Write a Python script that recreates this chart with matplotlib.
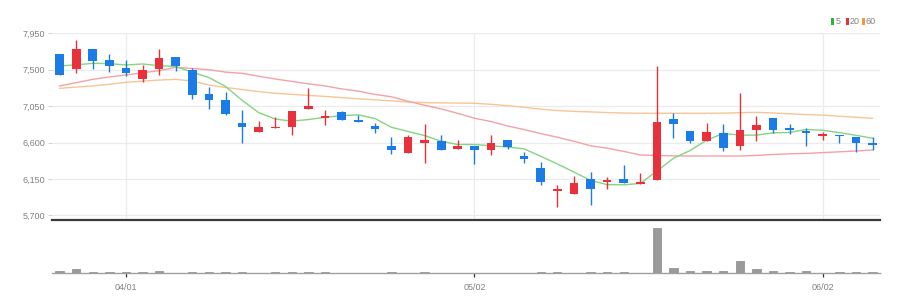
import matplotlib
matplotlib.use("Agg")
import matplotlib.pyplot as plt
import numpy as np
from matplotlib import font_manager
from matplotlib.patches import Rectangle

names = {f.name for f in font_manager.fontManager.ttflist}
FONT = "Liberation Sans" if "Liberation Sans" in names else "DejaVu Sans"
plt.rcParams["font.family"] = [FONT, "DejaVu Sans"]

# ---------------- data ----------------
opens = [7694, 7513, 7756, 7620, 7526, 7381, 7505, 7653, 7497, 7196,
         7126, 6846, 6730, 6780, 6788, 7015, 6907, 6973, 6879, 6809,
         6561, 6475, 6594, 6623, 6516, 6553, 6508, 6635, 6437, 6281,
         6005, 5967, 6145, 6108, 6151, 6087, 6137, 6891, 6738, 6615,
         6722, 6561, 6755, 6899, 6775, 6743, 6685, 6693, 6672, 6590]
highs = [7694, 7868, 7756, 7690, 7620, 7558, 7760, 7661, 7517, 7282,
         7225, 7002, 6870, 6920, 6994, 7270, 7002, 6990, 6940, 6846,
         6672, 6693, 6829, 6693, 6631, 6553, 6693, 6635, 6487, 6355,
         6077, 6186, 6240, 6178, 6322, 6219, 7550, 6961, 6738, 6837,
         6825, 7208, 6928, 6899, 6825, 6784, 6734, 6693, 6672, 6672]
lows = [7435, 7455, 7505, 7476, 7422, 7352, 7435, 7488, 7138, 7010,
        6940, 6598, 6730, 6780, 6697, 7015, 6817, 6879, 6854, 6714,
        6454, 6475, 6351, 6508, 6516, 6334, 6450, 6516, 6347, 6077,
        5807, 5967, 5828, 6025, 6095, 6087, 6137, 6652, 6590, 6615,
        6501, 6508, 6623, 6714, 6701, 6553, 6631, 6590, 6487, 6508]
closes = [7435, 7752, 7608, 7542, 7455, 7497, 7649, 7550, 7192, 7126,
          6949, 6792, 6788, 6796, 6994, 7052, 6932, 6879, 6854, 6767,
          6508, 6672, 6627, 6508, 6561, 6508, 6598, 6544, 6396, 6106,
          6030, 6098, 6030, 6133, 6095, 6112, 6858, 6825, 6615, 6730,
          6536, 6751, 6821, 6755, 6755, 6722, 6701, 6677, 6590, 6574]
ma5 = [7546, 7560, 7579, 7575, 7558, 7571, 7550, 7539, 7469, 7403,
       7293, 7122, 6969, 6890, 6864, 6884, 6912, 6931, 6942, 6897,
       6788, 6736, 6686, 6616, 6575, 6575, 6560, 6544, 6521, 6430,
       6335, 6235, 6132, 6079, 6077, 6094, 6246, 6405, 6501, 6628,
       6713, 6691, 6691, 6719, 6724, 6761, 6751, 6722, 6689, 6653]
ma20 = [7299, 7340, 7381, 7410, 7435, 7462, 7488, 7530, 7515, 7500,
        7470, 7455, 7420, 7385, 7355, 7325, 7300, 7262, 7235, 7195,
        7165, 7110, 7060, 7015, 6960, 6900, 6860, 6805, 6760, 6710,
        6665, 6615, 6560, 6530, 6490, 6446, 6440, 6435, 6433, 6433,
        6433, 6433, 6440, 6452, 6460, 6465, 6475, 6485, 6495, 6508]
ma60 = [7270, 7285, 7300, 7320, 7344, 7358, 7372, 7381, 7360, 7311,
        7280, 7255, 7229, 7208, 7195, 7182, 7170, 7155, 7140, 7128,
        7115, 7100, 7093, 7090, 7088, 7085, 7072, 7055, 7035, 7012,
        6995, 6985, 6978, 6970, 6965, 6961, 6961, 6961, 6961, 6961,
        6963, 6968, 6973, 6965, 6955, 6945, 6938, 6925, 6912, 6899]
volumes = [46000, 86000, 20000, 20000, 20000, 20000, 46000, 6000, 20000, 20000,
           20000, 20000, 6000, 20000, 20000, 20000, 20000, 6000, 6000, 6000,
           20000, 6000, 36000, 6000, 6000, 6000, 6000, 6000, 6000, 20000,
           20000, 6000, 20000, 20000, 20000, 6000, 912000, 100000, 40000, 54000,
           46000, 246000, 80000, 46000, 26000, 46000, 6000, 20000, 20000, 20000]
date_ticks = [4, 25, 46]
date_labels = ["04/01", "05/02", "06/02"]
price_ticks = [5700, 6150, 6600, 7050, 7500, 7950]
legend_labels = ["5", "20", "60"]

# ---------------- style ----------------
UP = "#e8313b"
DOWN = "#1b7ce8"
C5, C20, C60 = "#86d47f", "#f4a2a7", "#f8c596"
GRID = "#ebebeb"
TXT = "#808080"
FS = 6.5

W, H = 910, 307
fig = plt.figure(figsize=(W / 100, H / 100), dpi=100)
fig.patch.set_facecolor("white")

L, R = 52, 880
ptop, pbot = 33.3, 220
vbot = 273.3
ax = fig.add_axes([L / W, 1 - pbot / H, (R - L) / W, (pbot - ptop) / H])
axv = fig.add_axes([L / W, 1 - vbot / H, (R - L) / W, (vbot - pbot) / H], sharex=ax)

x = np.arange(len(closes))
o = np.array(opens); c = np.array(closes); h = np.array(highs); lo = np.array(lows)
up = c >= o
cols = [UP if u else DOWN for u in up]

ax.vlines(x, lo, h, colors=cols, linewidth=1.0, zorder=3)
bottoms = np.minimum(o, c)
heights = np.maximum(np.abs(c - o), 16)
ax.bar(x, heights, bottom=bottoms, width=0.52, color=cols, linewidth=0, zorder=4)

ax.plot(x, ma60, color=C60, lw=1.0, zorder=2)
ax.plot(x, ma20, color=C20, lw=1.0, zorder=2)
ax.plot(x, ma5, color=C5, lw=1.0, zorder=2)

ax.set_xlim(-0.46, 49.45)
ax.set_ylim(5642, 7950)
ax.set_yticks(price_ticks)
ax.set_yticklabels([f"{v:,}" for v in price_ticks], color=TXT, fontsize=FS)
ax.tick_params(axis="y", length=3, width=0.6, color="#cccccc", pad=2)
ax.tick_params(axis="x", length=0, labelbottom=False)
ax.grid(axis="y", color=GRID, lw=0.9, zorder=0)
for t in date_ticks:
    ax.axvline(t, color=GRID, lw=0.9, zorder=0)
for s in ["top", "left", "right"]:
    ax.spines[s].set_visible(False)
ax.spines["bottom"].set_color("#3a3a3a")
ax.spines["bottom"].set_linewidth(1.6)
ax.set_axisbelow(True)

axv.bar(x, volumes, width=0.5, color="#9a9a9a", edgecolor="#8a8a8a", linewidth=0.5)
vmax = max(volumes)
axv.set_ylim(0, vmax * (vbot - pbot) / 45.6)
axv.set_yticks([])
for s in ["top", "left", "right"]:
    axv.spines[s].set_visible(False)
axv.spines["bottom"].set_color("#a0a0a0")
axv.spines["bottom"].set_linewidth(1.0)
axv.set_xticks(date_ticks)
axv.set_xticklabels(date_labels, color=TXT, fontsize=FS)
axv.tick_params(axis="x", length=3, width=0.9, color="#333333", pad=4)
axv.patch.set_alpha(0)

# legend
leg_cols = ["#2db52d", UP, "#f39a3a"]
xs = [831, 845.5, 861.5]
ly = 21.5
for xp, lab, col in zip(xs, legend_labels, leg_cols):
    fig.patches.append(Rectangle((xp / W, 1 - (ly + 3.2) / H), 3.4 / W, 6.4 / H,
                                 transform=fig.transFigure, color=col, lw=0))
    fig.text((xp + 4.5) / W, 1 - ly / H, lab, color=TXT, fontsize=FS,
             va="center", ha="left")

fig.savefig("out.png", dpi=100, facecolor="white")
